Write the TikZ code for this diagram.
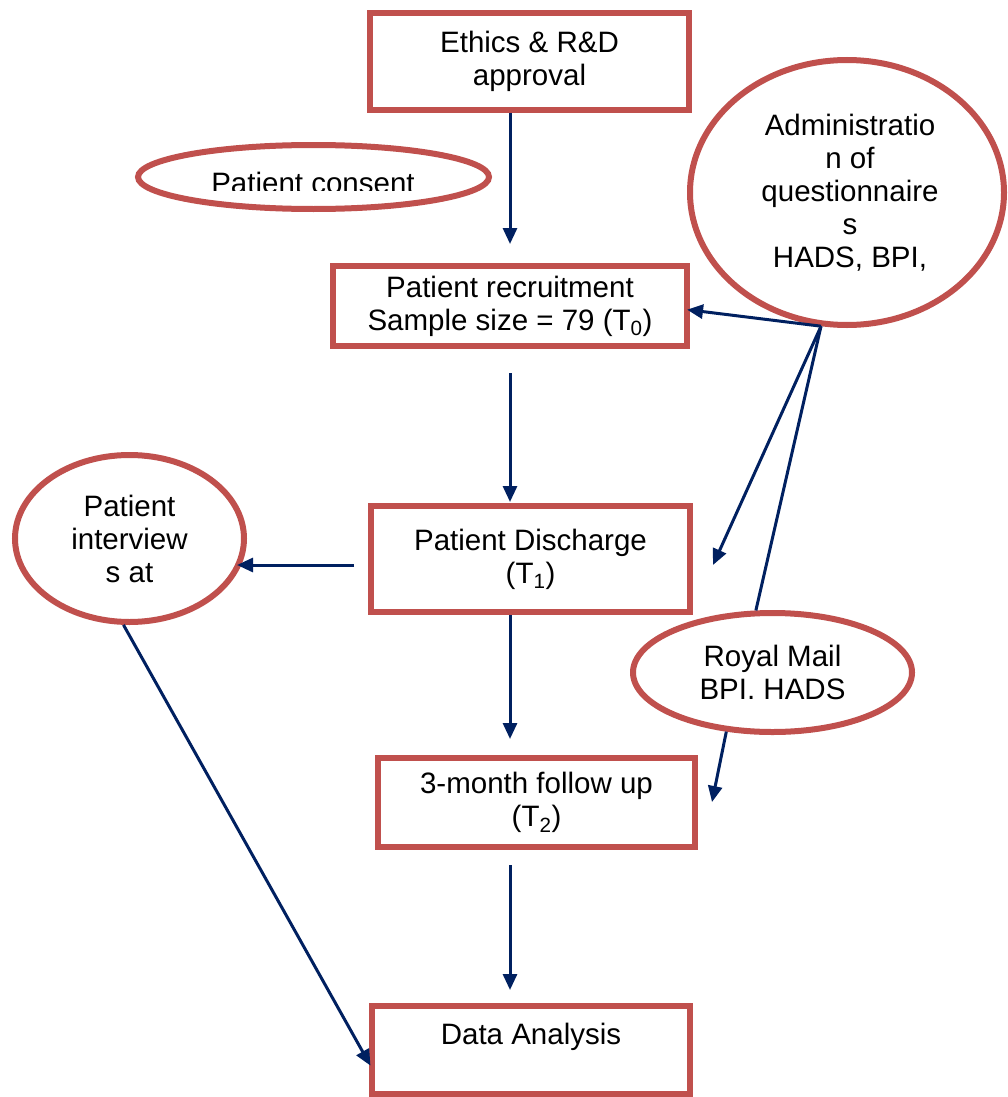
\documentclass[tikz,border=0pt]{standalone}
\usepackage{fontspec}
\setmainfont{Liberation Sans}
\usetikzlibrary{arrows.meta,shapes.geometric}
\definecolor{boxred}{HTML}{C0504D}
\definecolor{navy}{HTML}{002060}
\begin{document}
\begin{tikzpicture}[x=1pt,y=-1pt,
  every node/.style={font=\fontsize{29.5}{33}\selectfont, align=center, inner sep=0pt},
  stage/.style={draw=boxred, line width=6pt, fill=white, rectangle},
  bubble/.style={draw=boxred, line width=6pt, fill=white, ellipse},
  flow/.style={draw=navy, line width=3pt, -{Triangle[length=16pt,width=14pt]}},
  link/.style={draw=navy, line width=3pt}]
\useasboundingbox (0,0) rectangle (1007,1097);

% main sequence of stages
\node[stage, minimum width=319pt, minimum height=97pt]  (ethics)    at (529.5,61.5) {Ethics \& R\&D\\approval};
\node[stage, minimum width=354pt, minimum height=80pt]  (recruit)   at (510,306)    {Patient recruitment\\Sample size = 79 (T\textsubscript{0})};
\node[stage, minimum width=319pt, minimum height=106pt] (discharge) at (530.5,559)  {Patient Discharge\\(T\textsubscript{1})};
\node[stage, minimum width=317pt, minimum height=89pt]  (followup)  at (536.5,802.5){3-month follow up\\(T\textsubscript{2})};
\node[stage, minimum width=318pt, minimum height=88pt]  (analysis)  at (531,1050)   {Data Analysis\\\mbox{}};

% side notes
\node[bubble, minimum width=351pt, minimum height=64pt] (consent) at (313.5,177) {};
\begin{scope}
  \clip (0,0) rectangle (1007,190);
  \node[anchor=base] (consenttext) at (313,193) {Patient consent};
\end{scope}
\node[bubble, minimum width=314pt, minimum height=265pt] (admin) at (847,192.5)
  {\hspace*{6pt}Administratio\\\hspace*{6pt}n of\\\hspace*{6pt}questionnaire\\\hspace*{6pt}s\\\hspace*{6pt}HADS, BPI,};
\node[bubble, minimum width=229pt, minimum height=167pt] (interview) at (129.5,538.5) {Patient\\interview\\s at};
\node[bubble, minimum width=279pt, minimum height=119pt] (mail) at (772.5,672.5) {Royal Mail\\BPI. HADS};

% connector helpers
\coordinate (spine) at (510,0);
\coordinate (hub) at (admin.259);
\coordinate (dischargetip) at (713,565);
\coordinate (followtip) at (712,802);
\coordinate (interviewtip) at (237,565);

% vertical flow
\draw[flow, shorten >=19pt] (ethics.south -| spine) -- (recruit.north -| spine);
\draw[flow, shorten <=24pt, shorten >=1pt] (recruit.south -| spine) -- (discharge.north -| spine);
\draw[flow, shorten >=16pt] (discharge.south -| spine) -- (followup.north -| spine);
\draw[flow, shorten <=15pt, shorten >=13pt] (followup.south -| spine) -- (analysis.north -| spine);

% questionnaire administration
\draw[flow, shorten >=-3pt] (hub) -- ([yshift=-4pt]recruit.east);
\draw[flow] (hub) -- (dischargetip);
\draw[link] (hub) -- (mail.105);
\draw[flow] (mail.232) -- (followtip);

% interviews
\draw[flow, shorten <=14pt] ([yshift=-6pt]discharge.west) -- (interviewtip);
\draw[flow, shorten >=-3pt] (interview.266) -- ([yshift=-13pt]analysis.west);
\end{tikzpicture}
\end{document}
